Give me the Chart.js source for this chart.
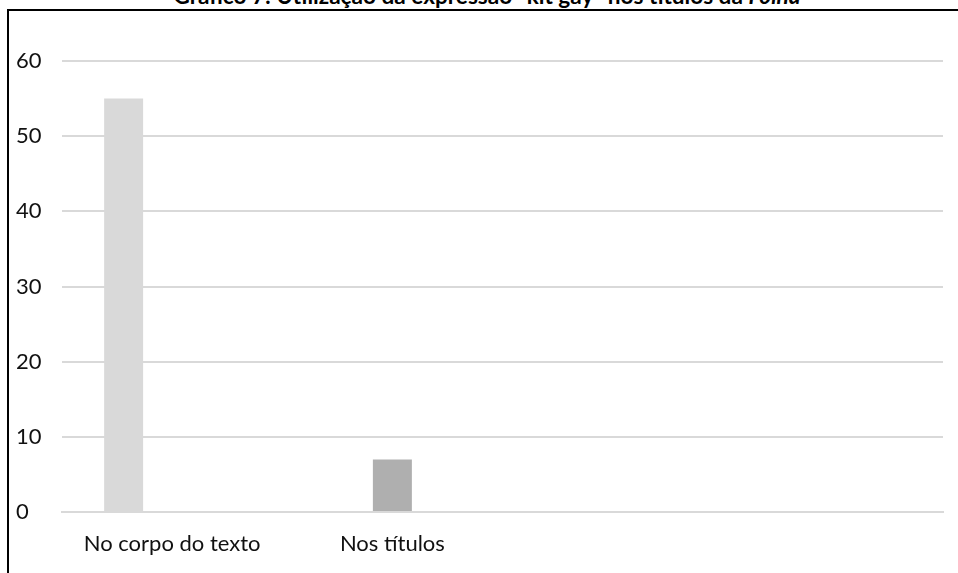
<!DOCTYPE html>
<html lang="pt">
<head>
<meta charset="utf-8">
<title>Gráfico 7</title>
<script src="https://cdn.jsdelivr.net/npm/chart.js@4.4.1/dist/chart.umd.min.js"></script>
<style>
    html, body { margin: 0; padding: 0; background: #fff; overflow: hidden; }
    #wrap { position: relative; width: 958px; height: 573px; overflow: hidden; }
    #frame {
        position: absolute; left: 7px; top: 9px; width: 1000px; height: 700px;
        border-left: 2px solid #000; border-top: 2px solid #000; box-sizing: border-box;
    }
    #title {
        position: absolute; left: 0; width: 974px; top: -15px; text-align: center;
        font: bold 22.6px Lato, sans-serif; line-height: 22px; color: #000; white-space: nowrap;
    }
    #chart { position: absolute; left: 0; top: 0; }
</style>
</head>
<body>
<div id="wrap">
    <div id="title">Gráfico 7: Utilização da expressão "kit gay" nos títulos da <i>Folha</i></div>
    <div id="frame"></div>
    <canvas id="chart" width="958" height="573"></canvas>
</div>
<script>
// --- datos ---
const categories = ['No corpo do texto', 'Nos títulos', '', ''];
const corpoValues = [55, null, null, null];
const titulosValues = [null, 7, null, null];
const emptyValues = [null, null, null, null];
const yMin = 0;
const yMax = 60;
const yStep = 10;

const labelFont = { family: 'Lato, sans-serif', size: 22 };

const ctx = document.getElementById('chart').getContext('2d');
new Chart(ctx, {
    type: 'bar',
    data: {
        labels: categories,
        datasets: [
            { label: 'No corpo do texto', data: corpoValues, backgroundColor: '#d9d9d9' },
            { label: 'Nos títulos', data: titulosValues, backgroundColor: '#afafaf' },
            { label: '', data: emptyValues, backgroundColor: '#8c8c8c' }
        ]
    },
    options: {
        responsive: false,
        animation: false,
        categoryPercentage: 0.6606,
        barPercentage: 0.804,
        layout: { padding: { left: 16, right: 15, top: 61, bottom: 0 } },
        plugins: {
            legend: { display: false },
            tooltip: { enabled: false },
            title: { display: false }
        },
        scales: {
            x: {
                grid: { display: false, drawTicks: false },
                border: { display: true, color: '#d9d9d9', width: 2 },
                ticks: { font: labelFont, color: '#111', padding: 19, maxRotation: 0, autoSkip: false },
                afterFit: (scale) => { scale.height = 61; }
            },
            y: {
                min: yMin,
                max: yMax,
                grid: { color: '#d9d9d9', lineWidth: 2, drawTicks: false },
                border: { display: false },
                ticks: { stepSize: yStep, font: labelFont, color: '#111', crossAlign: 'far' },
                afterFit: (scale) => { scale.width = 46; }
            }
        }
    }
});
</script>
</body>
</html>
